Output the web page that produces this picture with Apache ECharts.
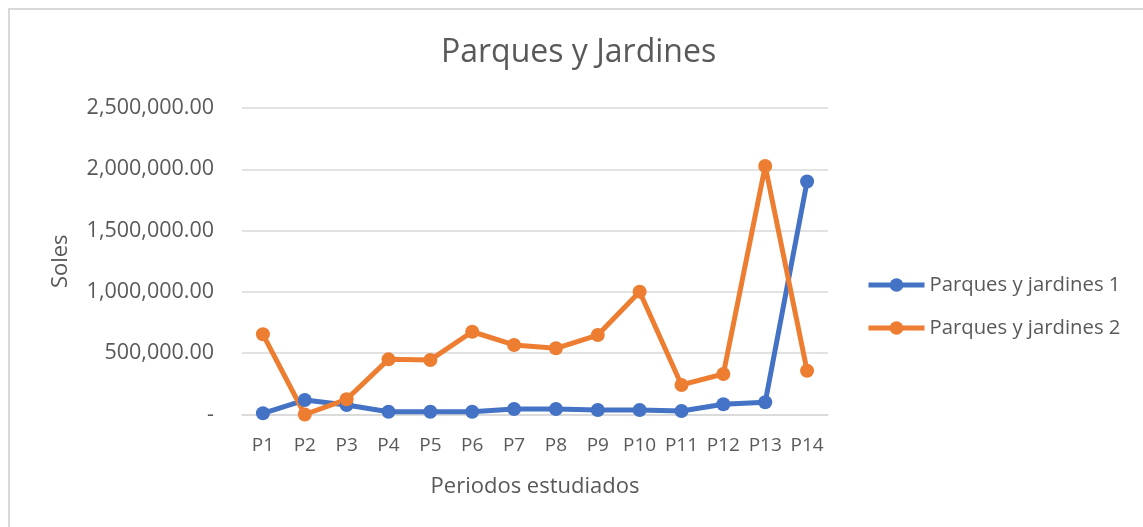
<!DOCTYPE html>
<html>
<head>
<meta charset="utf-8">
<script src="https://cdn.jsdelivr.net/npm/echarts@6/dist/echarts.min.js"></script>
<style>
  html, body { margin: 0; padding: 0; background: #ffffff; }
  #frame {
    position: absolute; left: 8px; top: 8px; width: 1200px; height: 600px;
    border-left: 2px solid #d9d9d9; border-top: 2px solid #d9d9d9;
    box-sizing: border-box;
  }
  #chart { position: absolute; left: 0; top: 0; width: 1143px; height: 527px; }
</style>
</head>
<body>
<div id="frame"></div>
<div id="chart"></div>
<script>
// periodos
const categories = ['P1', 'P2', 'P3', 'P4', 'P5', 'P6', 'P7', 'P8', 'P9', 'P10', 'P11', 'P12', 'P13', 'P14'];
// Parques y jardines 1
const serie1 = [10000, 118000, 77000, 23000, 22000, 22000, 45000, 45000, 37000, 37000, 28000, 83000, 100000, 1900000];
// Parques y jardines 2
const serie2 = [654000, 0, 124000, 450000, 445000, 675000, 567000, 540000, 648000, 1002000, 241000, 330000, 2027000, 357000];
const yTicks = [0, 500000, 1000000, 1500000, 2000000, 2500000];

const textColor = '#595959';
const font = 'Open Sans';

const chart = echarts.init(document.getElementById('chart'));
chart.setOption({
  animation: false,
  title: {
    text: 'Parques y Jardines',
    left: 436,
    top: 32,
    textStyle: { fontFamily: font, fontSize: 32, fontWeight: 'normal', color: textColor }
  },
  legend: {
    orient: 'vertical',
    left: 866,
    top: 275,
    padding: 0,
    itemWidth: 56,
    itemHeight: 17,
    itemGap: 23,
    lineStyle: { width: 5 },
    data: ['Parques y jardines 1', 'Parques y jardines 2'],
    textStyle: { fontFamily: font, fontSize: 20.3, color: textColor }
  },
  grid: { left: 242, right: 315, top: 108, bottom: 112.5 },
  xAxis: {
    type: 'category',
    data: categories,
    name: 'Periodos estudiados',
    nameLocation: 'middle',
    nameGap: 61,
    nameTextStyle: { fontFamily: font, fontSize: 22, color: textColor },
    axisLine: { lineStyle: { color: '#d9d9d9', width: 1.5 } },
    axisTick: { show: false },
    axisLabel: { interval: 0, margin: 22, fontFamily: font, fontSize: 19, color: textColor }
  },
  yAxis: {
    type: 'value',
    min: yTicks[0],
    max: yTicks[yTicks.length - 1],
    interval: yTicks[1] - yTicks[0],
    name: 'Soles',
    nameLocation: 'middle',
    nameGap: 170,
    nameTextStyle: { fontFamily: font, fontSize: 22, color: textColor },
    axisLine: { show: false },
    axisTick: { show: false },
    splitLine: { lineStyle: { color: '#d9d9d9', width: 1.5 } },
    axisLabel: {
      margin: 28,
      fontFamily: font,
      fontSize: 21.5,
      color: textColor,
      formatter: v => v === 0 ? '-' : v.toLocaleString('en-US', { minimumFractionDigits: 2, maximumFractionDigits: 2 })
    }
  },
  series: [
    {
      name: 'Parques y jardines 1',
      type: 'line',
      data: serie1,
      symbol: 'circle',
      symbolSize: 14,
      itemStyle: { color: '#4472c4' },
      lineStyle: { color: '#4472c4', width: 5 },
      emphasis: { disabled: true }
    },
    {
      name: 'Parques y jardines 2',
      type: 'line',
      data: serie2,
      symbol: 'circle',
      symbolSize: 14,
      itemStyle: { color: '#ed7d31' },
      lineStyle: { color: '#ed7d31', width: 5 },
      emphasis: { disabled: true }
    }
  ]
});
</script>
</body>
</html>
